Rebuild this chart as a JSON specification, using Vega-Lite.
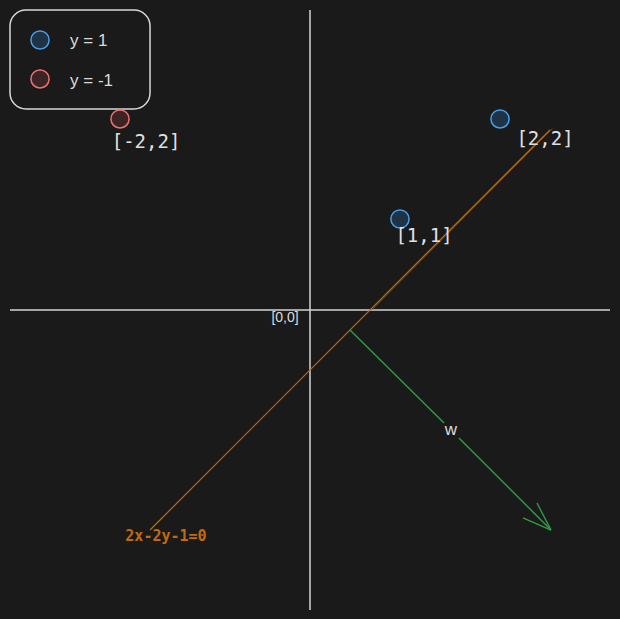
{
  "$schema": "https://vega.github.io/schema/vega-lite/v6.json",
  "autosize": {"type": "fit", "contains": "padding"},
  "width": 620,
  "height": 619,
  "padding": 0,
  "background": "#1a1a1a",
  "config": {"view": {"stroke": null}},
  "datasets": {
    "segs": [
      {"kind": "axis", "x": 0, "y": -3.158, "x2": 0, "y2": 3.158},
      {"kind": "axis", "x": -3.158, "y": 0, "x2": 3.158, "y2": 0},
      {"kind": "line", "x": -1.684, "y": -2.316, "x2": 2.526, "y2": 1.895},
      {"kind": "line2", "x": 0.65, "y": 0.0, "x2": 2.55, "y2": 1.91},
      {"kind": "w", "x": 0.421, "y": -0.211, "x2": 1.411, "y2": -1.189},
      {"kind": "w", "x": 1.568, "y": -1.347, "x2": 2.537, "y2": -2.316},
      {"kind": "w", "x": 2.242, "y": -2.189, "x2": 2.537, "y2": -2.316},
      {"kind": "w", "x": 2.389, "y": -2.032, "x2": 2.537, "y2": -2.316}
    ],
    "points": [
      {"cls": "y = 1", "x": 0.947, "y": 0.958},
      {"cls": "y = 1", "x": 2.0, "y": 2.011},
      {"cls": "y = -1", "x": -2.0, "y": 2.011},
      {"cls": "y = 1", "x": -2.842, "y": 2.842},
      {"cls": "y = -1", "x": -2.842, "y": 2.432}
    ],
    "coords": [
      {"text": "[1,1]", "x": 1.2, "y": 0.779},
      {"text": "[2,2]", "x": 2.474, "y": 1.8},
      {"text": "[-2,2]", "x": -1.726, "y": 1.768}
    ],
    "notes": [
      {"text": "[0,0]", "x": -0.263, "y": -0.084, "size": "s"},
      {"text": "w", "x": 1.484, "y": -1.263, "size": "m"}
    ],
    "legendtext": [
      {"text": "y = 1", "x": -2.526, "y": 2.832},
      {"text": "y = -1", "x": -2.526, "y": 2.411}
    ],
    "box": [
      {"x": -3.158, "y": 3.158, "x2": -1.684, "y2": 2.116}
    ],
    "eq": [
      {"text": "2x-2y-1=0", "x": -1.516, "y": -2.379}
    ]
  },
  "encoding": {
    "x": {"field": "x", "type": "quantitative", "scale": {"domain": [-3.2632, 3.2632], "nice": false, "zero": false}, "axis": null},
    "y": {"field": "y", "type": "quantitative", "scale": {"domain": [-3.2526, 3.2632], "nice": false, "zero": false}, "axis": null}
  },
  "layer": [
    {
      "data": {"name": "segs"},
      "transform": [{"filter": "datum.kind === 'axis'"}],
      "mark": {"type": "rule", "color": "#d4d4d4", "strokeWidth": 1.5},
      "encoding": {"x2": {"field": "x2"}, "y2": {"field": "y2"}}
    },
    {
      "data": {"name": "segs"},
      "transform": [{"filter": "datum.kind === 'line'"}],
      "mark": {"type": "rule", "color": "#c26a0e", "strokeWidth": 1.2},
      "encoding": {"x2": {"field": "x2"}, "y2": {"field": "y2"}}
    },
    {
      "data": {"name": "segs"},
      "transform": [{"filter": "datum.kind === 'line2'"}],
      "mark": {"type": "rule", "color": "#a85a0c", "strokeWidth": 1, "opacity": 0.8},
      "encoding": {"x2": {"field": "x2"}, "y2": {"field": "y2"}}
    },
    {
      "data": {"name": "segs"},
      "transform": [{"filter": "datum.kind === 'w'"}],
      "mark": {"type": "rule", "color": "#2f9e44", "strokeWidth": 1.4},
      "encoding": {"x2": {"field": "x2"}, "y2": {"field": "y2"}}
    },
    {
      "data": {"name": "box"},
      "mark": {"type": "rect", "fill": null, "fillOpacity": 0, "stroke": "#d8d8d8", "strokeWidth": 1.5, "cornerRadius": 16},
      "encoding": {"x2": {"field": "x2"}, "y2": {"field": "y2"}}
    },
    {
      "data": {"name": "points"},
      "mark": {"type": "point", "shape": "circle", "filled": false, "strokeWidth": 1.5, "size": 330, "opacity": 1},
      "encoding": {
        "stroke": {"field": "cls", "type": "nominal", "scale": {"domain": ["y = 1", "y = -1"], "range": ["#4a9ee6", "#ee7272"]}, "legend": null},
        "fill": {"field": "cls", "type": "nominal", "scale": {"domain": ["y = 1", "y = -1"], "range": ["#1e3446", "#3d2424"]}, "legend": null},
        "fillOpacity": {"value": 1}
      }
    },
    {
      "data": {"name": "coords"},
      "mark": {"type": "text", "font": "DejaVu Sans Mono", "fontSize": 19, "color": "#e0e0e0", "align": "center", "baseline": "middle"},
      "encoding": {"text": {"field": "text"}}
    },
    {
      "data": {"name": "notes"},
      "transform": [{"filter": "datum.size === 's'"}],
      "mark": {"type": "text", "font": "Liberation Sans", "fontSize": 14, "color": "#dcdcdc", "align": "center", "baseline": "middle"},
      "encoding": {"text": {"field": "text"}}
    },
    {
      "data": {"name": "notes"},
      "transform": [{"filter": "datum.size === 'm'"}],
      "mark": {"type": "text", "font": "Liberation Sans", "fontSize": 17, "color": "#dcdcdc", "align": "center", "baseline": "middle"},
      "encoding": {"text": {"field": "text"}}
    },
    {
      "data": {"name": "legendtext"},
      "mark": {"type": "text", "font": "Liberation Sans", "fontSize": 17, "color": "#dcdcdc", "align": "left", "baseline": "middle"},
      "encoding": {"text": {"field": "text"}}
    },
    {
      "data": {"name": "eq"},
      "mark": {"type": "text", "font": "DejaVu Sans Mono", "fontSize": 15, "fontWeight": "bold", "color": "#c26a0e", "align": "center", "baseline": "middle"},
      "encoding": {"text": {"field": "text"}}
    }
  ]
}
